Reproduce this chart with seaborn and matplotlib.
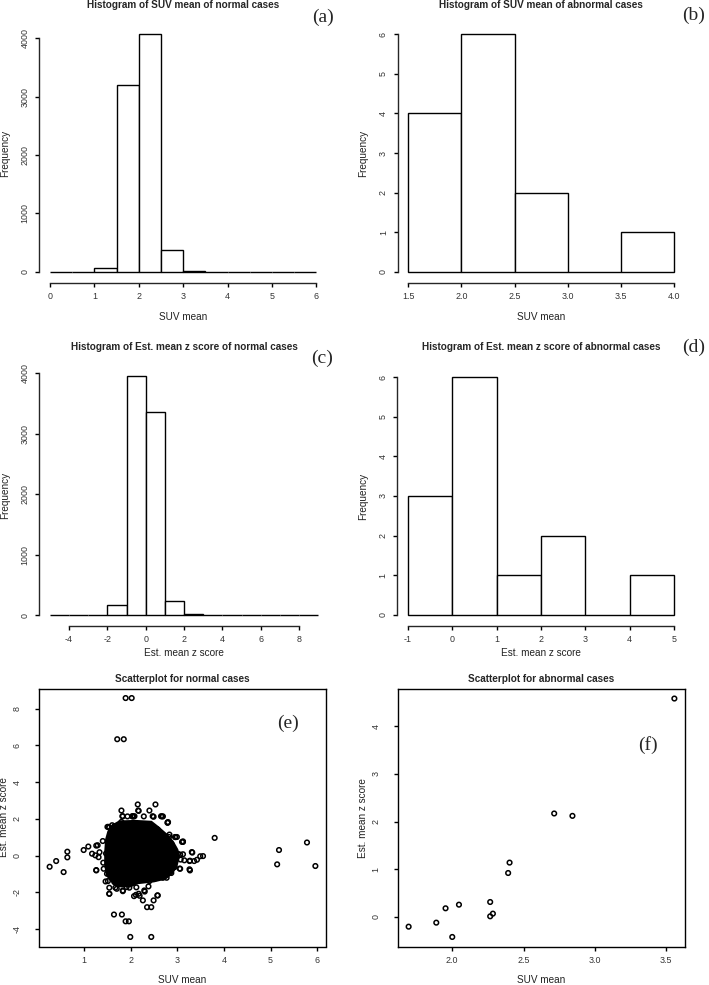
import numpy as np
import pandas as pd
import matplotlib
matplotlib.use("Agg")
import matplotlib.pyplot as plt
import seaborn as sns

# ---------------- data ----------------
# (a) histogram of SUV mean, normal cases
suv_edges_normal = [0, 0.5, 1, 1.5, 2, 2.5, 3, 3.5, 4, 4.5, 5, 5.5, 6]
suv_counts_normal = [2, 4, 65, 3200, 4070, 380, 15, 3, 0, 0, 2, 2]
# (b) histogram of SUV mean, abnormal cases
suv_edges_abn = [1.5, 2.0, 2.5, 3.0, 3.5, 4.0]
suv_counts_abn = [4, 6, 2, 0, 1]
# (c) histogram of Est. mean z score, normal cases
z_edges_normal = [-5, -4, -3, -2, -1, 0, 1, 2, 3, 4, 5, 6, 7, 8, 9]
z_counts_normal = [2, 4, 8, 170, 3960, 3350, 240, 15, 0, 0, 0, 2, 0, 2]
# (d) histogram of Est. mean z score, abnormal cases
z_edges_abn = [-1, 0, 1, 2, 3, 4, 5]
z_counts_abn = [3, 6, 1, 2, 0, 1]

# (e) scatter, normal cases: visible individual points
normal_suv = [1.89, 2.02, 1.71, 1.85,
              0.26, 0.40, 0.56, 0.64, 0.64, 0.99, 1.09, 1.26, 1.31, 1.26, 1.33, 1.47, 1.57, 1.40, 1.41, 1.46, 1.49,
              3.80, 5.18, 5.14, 5.78, 5.96,
              3.49, 3.55, 3.31, 3.27, 3.36, 3.27, 3.10, 3.12, 3.06, 3.07, 3.05, 2.96, 2.79, 2.88,
              2.15, 2.53, 1.80, 2.16, 2.40, 1.82, 2.04, 2.06, 2.28, 2.49, 2.67, 2.69, 2.80, 1.54, 1.65,
              2.57, 2.95, 2.83, 1.52, 1.60, 1.80, 1.93, 2.67, 2.82,
              1.54, 1.70, 1.83, 1.64, 1.81, 1.89, 1.96, 1.99, 2.44, 2.07, 2.17, 2.30, 2.26, 2.35, 2.44,
              2.49, 2.57, 1.91, 2.12, 2.38, 2.54, 2.69, 2.77,
              2.17, 1.83, 2.03, 2.08, 2.47, 2.65, 2.79, 1.50, 1.65, 2.58, 2.99, 3.12, 1.29,
              1.17, 1.24, 3.01, 3.12, 3.32, 3.15, 3.26, 3.42, 1.26, 1.42, 2.94, 3.06, 3.26, 2.87,
              1.51, 1.65, 1.79, 2.40, 2.57, 1.54, 1.67, 1.83, 1.97, 2.11, 2.29, 2.19, 2.58, 1.54]
normal_z = [8.58, 8.58, 6.34, 6.34,
            -0.60, -0.29, -0.89, 0.22, -0.09, 0.31, 0.50, 0.55, -0.08, -0.78, 0.19, 0.12, 0.57, 0.80, -0.38, -1.40, -0.98,
            0.97, 0.31, -0.47, 0.72, -0.56,
            -0.03, -0.02, 0.20, -0.27, -0.29, -0.80, 0.75, 0.78, 0.06, -0.21, -0.70, 1.01, 1.81, 0.62,
            2.79, 2.79, 2.46, 2.46, 2.46, 2.15, 2.14, 2.14, 2.14, 2.12, 2.14, 2.14, 1.83, 1.54, 1.55,
            1.43, 1.02, 1.15, 1.57, 1.66, 1.84, 2.14, 0.84, 1.02,
            -2.07, -1.80, -1.93, -3.20, -3.20, -3.57, -3.57, -4.42, -4.42, -2.20, -2.07, -1.95, -2.43, -2.80, -2.80,
            -2.43, -2.16, -1.71, -1.72, -1.67, -1.22, -1.20, -1.20,
            2.44, 2.15, 2.15, 2.15, 2.15, 2.15, 1.79, 1.57, 1.61, 1.42, 1.02, 0.75, 0.57,
            0.11, 0.02, 0.11, 0.08, 0.17, -0.25, -0.29, -0.22, -0.80, -0.71, -0.62, -0.71, -0.74, -0.94,
            -1.38, -1.44, -1.44, -1.38, -1.16, -1.74, -1.74, -1.89, -1.74, -2.13, -1.89, -2.18, -2.16, -2.07]
# outline of the fully over-plotted (solid black) core of the normal-case cloud
core_suv = [1.75, 2.10, 2.45, 2.60, 2.78, 2.92, 3.02, 3.05, 3.00, 2.90, 2.75, 2.50, 2.15, 2.00,
            1.75, 1.60, 1.47, 1.43, 1.43, 1.45, 1.50, 1.60]
core_z = [1.92, 1.95, 1.90, 1.60, 1.20, 0.80, 0.35, -0.10, -0.60, -1.00, -1.30, -1.45, -1.55, -1.72,
          -1.72, -1.50, -1.10, -0.50, 0.20, 0.90, 1.35, 1.70]

# (f) scatter, abnormal cases
abn_suv = [1.694, 1.888, 1.953, 2.000, 2.047, 2.266, 2.266, 2.285, 2.392, 2.402, 2.715, 2.843, 3.558]
abn_z = [-0.203, -0.119, 0.182, -0.419, 0.258, 0.314, 0.014, 0.070, 0.922, 1.140, 2.170, 2.120, 4.580]

titles = ["Histogram of SUV mean of normal cases",
          "Histogram of SUV mean of abnormal cases",
          "Histogram of Est. mean z score of normal cases",
          "Histogram of Est. mean z score of abnormal cases",
          "Scatterplot for normal cases",
          "Scatterplot for abnormal cases"]
panel_tags = ["(a)", "(b)", "(c)", "(d)", "(e)", "(f)"]

# ---------------- style ----------------
sns.set_theme(style="ticks")
plt.rcParams["font.family"] = ["Liberation Sans", "DejaVu Sans"]
plt.rcParams["axes.linewidth"] = 1.0

W, H = 709, 985
fig = plt.figure(figsize=(W / 100, H / 100), dpi=100)
fig.patch.set_facecolor("white")


def add_ax(x0, x1, y0, y1):
    ax = fig.add_axes([x0 / W, 1 - y1 / H, (x1 - x0) / W, (y1 - y0) / H])
    ax.set_facecolor("white")
    return ax


def ftext(x, y, s, **kw):
    fig.text(x / W, 1 - y / H, s, **kw)


TITLE_FS = 7.2
LABEL_FS = 7.2
TICK_FS = 6.4
TAG_FS = 14


def pad_lims(lo, hi):
    r = hi - lo
    return lo - 0.04 * r, hi + 0.04 * r


def hist_panel(ax, edges, counts, xticks, xticklabels, yticks, xlabel, xlab_off, title, title_y, tag, tag_xy):
    centers = [(edges[i] + edges[i + 1]) / 2 for i in range(len(edges) - 1)]
    df = pd.DataFrame({"x": centers, "w": [float(c) for c in counts]})
    sns.histplot(data=df, x="x", weights="w", bins=list(edges), ax=ax, color="white",
                 edgecolor="black", linewidth=1.0, alpha=1.0)
    for p in ax.patches:
        p.set_facecolor("white")
        p.set_edgecolor("black")
        p.set_linewidth(1.0)
    ax.set_xlim(*pad_lims(edges[0], edges[-1]))
    ax.set_ylim(*pad_lims(0, max(counts)))
    sns.despine(ax=ax)
    ax.spines["left"].set_bounds(yticks[0], yticks[-1])
    ax.spines["bottom"].set_bounds(xticks[0], xticks[-1])
    ax.spines["bottom"].set_position(("outward", 1))
    ax.set_xticks(xticks)
    ax.set_xticklabels(xticklabels)
    ax.set_yticks(yticks)
    ax.set_yticklabels([str(v) for v in yticks])
    ax.tick_params(axis="x", length=3, width=1.0, pad=3.5, labelsize=TICK_FS, colors="black", labelcolor="#333333")
    ax.tick_params(axis="y", length=3, width=1.0, pad=4.0, labelsize=TICK_FS, colors="black", labelcolor="#333333",
                   labelrotation=90)
    for lab in ax.get_yticklabels():
        lab.set_va("center")
    hpx = ax.get_position().height * H
    wpx = ax.get_position().width * W
    ax.set_xlabel(xlabel, fontsize=LABEL_FS, color="#222222")
    ax.xaxis.label.set_va("center")
    ax.xaxis.set_label_coords(0.5, -xlab_off / hpx)
    ax.set_ylabel("Frequency", fontsize=LABEL_FS, color="#222222")
    ax.yaxis.label.set_va("center")
    ax.yaxis.set_label_coords(-34 / wpx, 0.5)
    bb = ax.get_position()
    ftext((bb.x0 + bb.width / 2) * W, title_y, title, ha="center", va="center",
          fontsize=TITLE_FS, fontweight="bold")
    ftext(tag_xy[0], tag_xy[1], tag, ha="center", va="center", fontsize=TAG_FS,
          family=["Liberation Serif", "DejaVu Serif"])


def scatter_panel(ax, xs, ys, xticks, xticklabels, yticks, title, tag, tag_xy, core=None):
    if core is not None:
        ax.fill(core[0], core[1], color="black", lw=0, zorder=1)
    df = pd.DataFrame({"x": xs, "y": ys})
    sns.scatterplot(data=df, x="x", y="y", ax=ax, marker="o", s=11,
                    facecolors="none", edgecolor="black", linewidth=1.1, zorder=2)
    ax.set_xlim(*pad_lims(min(xs), max(xs)))
    ax.set_ylim(*pad_lims(min(ys), max(ys)))
    for sp in ax.spines.values():
        sp.set_visible(True)
        sp.set_linewidth(1.0)
        sp.set_color("black")
    ax.set_xticks(xticks)
    ax.set_xticklabels(xticklabels)
    ax.set_yticks(yticks)
    ax.set_yticklabels([str(v) for v in yticks])
    ax.tick_params(axis="x", length=3, width=1.0, pad=3.5, labelsize=TICK_FS, colors="black", labelcolor="#333333")
    ax.tick_params(axis="y", length=3, width=1.0, pad=9.5, labelsize=TICK_FS, colors="black", labelcolor="#333333",
                   labelrotation=90)
    for lab in ax.get_yticklabels():
        lab.set_va("center")
    hpx = ax.get_position().height * H
    wpx = ax.get_position().width * W
    ax.set_xlabel("SUV mean", fontsize=LABEL_FS, color="#222222")
    ax.xaxis.label.set_va("center")
    ax.xaxis.set_label_coords(0.5, -33.5 / hpx)
    ax.set_ylabel("Est. mean z score", fontsize=LABEL_FS, color="#222222")
    ax.yaxis.label.set_va("center")
    ax.yaxis.set_label_coords(-34.5 / wpx, 0.5)
    bb = ax.get_position()
    ftext((bb.x0 + bb.width / 2) * W, 679.3, title, ha="center", va="center",
          fontsize=TITLE_FS, fontweight="bold")
    ftext(tag_xy[0], tag_xy[1], tag, ha="center", va="center", fontsize=TAG_FS,
          family=["Liberation Serif", "DejaVu Serif"])


ax_a = add_ax(39.4, 327, 24.4, 281.5)
hist_panel(ax_a, suv_edges_normal, suv_counts_normal, [0, 1, 2, 3, 4, 5, 6], ["0", "1", "2", "3", "4", "5", "6"],
           [0, 1000, 2000, 3000, 4000], "SUV mean", 35.5, titles[0], 5.5, panel_tags[0], (323.3, 17))

ax_b = add_ax(397.6, 684.6, 24.5, 281.5)
hist_panel(ax_b, suv_edges_abn, suv_counts_abn, [1.5, 2.0, 2.5, 3.0, 3.5, 4.0],
           ["1.5", "2.0", "2.5", "3.0", "3.5", "4.0"], [0, 1, 2, 3, 4, 5, 6], "SUV mean", 35.5,
           titles[1], 5.5, panel_tags[1], (694, 15))

ax_c = add_ax(39.1, 329, 366, 624.6)
hist_panel(ax_c, z_edges_normal, z_counts_normal, [-4, -2, 0, 2, 4, 6, 8], ["-4", "-2", "0", "2", "4", "6", "8"],
           [0, 1000, 2000, 3000, 4000], "Est. mean z score", 28.5, titles[2], 346.7, panel_tags[2], (322.3, 358.3))

ax_d = add_ax(397.4, 684.6, 367.5, 624.5)
hist_panel(ax_d, z_edges_abn, z_counts_abn, [-1, 0, 1, 2, 3, 4, 5], ["-1", "0", "1", "2", "3", "4", "5"],
           [0, 1, 2, 3, 4, 5, 6], "Est. mean z score", 28.5, titles[3], 347.3, panel_tags[3], (694, 347))

ax_e = add_ax(39, 326, 688.5, 946.5)
scatter_panel(ax_e, normal_suv, normal_z, [1, 2, 3, 4, 5, 6], ["1", "2", "3", "4", "5", "6"],
              [-4, -2, 0, 2, 4, 6, 8], titles[4], panel_tags[4], (288.3, 723), core=(core_suv, core_z))

ax_f = add_ax(398, 685, 689, 946.5)
scatter_panel(ax_f, abn_suv, abn_z, [2.0, 2.5, 3.0, 3.5], ["2.0", "2.5", "3.0", "3.5"],
              [0, 1, 2, 3, 4], titles[5], panel_tags[5], (648, 745))

fig.savefig("out.png", dpi=100, facecolor="white")
